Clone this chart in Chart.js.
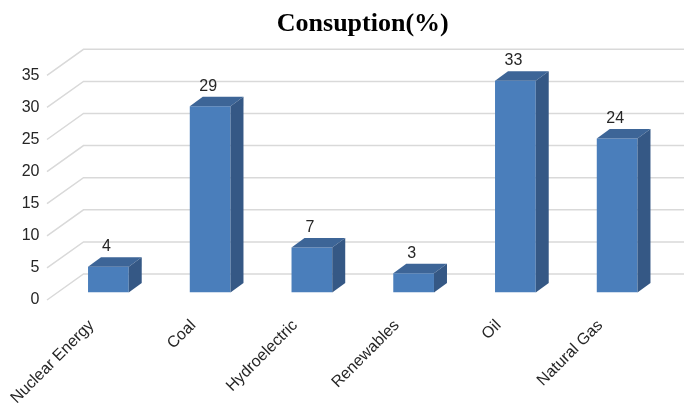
<!DOCTYPE html>
<html>
<head>
<meta charset="utf-8">
<script src="https://cdn.jsdelivr.net/npm/chart.js@4/dist/chart.umd.min.js"></script>
<style>
  html, body { margin: 0; padding: 0; background: #ffffff; }
  #wrap { width: 684px; height: 408px; position: relative; }
</style>
</head>
<body>
<div id="wrap"><canvas id="chart"></canvas></div>
<script>
// Energy consumption share by source (%)
const categories = ['Nuclear Energy', 'Coal', 'Hydroelectric', 'Renewables', 'Oil', 'Natural Gas'];
const consumption = [4, 29, 7, 3, 33, 24];
const yTicks = [0, 5, 10, 15, 20, 25, 30, 35];
const chartTitle = 'Consuption(%)';

// Pseudo-3D geometry, in pixels, relative to the bar front faces
const DEPTH = { dx: 13, dy: -9.5 };    // bar depth
const FRONT = { dx: -10.5, dy: 7.5 };  // front edge of the side wall
const BACK  = { dx: 26, dy: -18.5 };   // back wall

const FACE_FRONT = '#4a7ebb';
const FACE_TOP = '#3d6597';
const FACE_SIDE = '#355885';

// Back wall gridlines and the diagonal side-wall lines, drawn behind the bars
const wall3d = {
  id: 'wall3d',
  beforeDatasetsDraw(chart) {
    const { ctx, chartArea, scales: { y } } = chart;
    ctx.save();
    ctx.strokeStyle = '#d9d9d9';
    ctx.lineWidth = 1.5;
    yTicks.forEach(v => {
      const py = y.getPixelForValue(v);
      ctx.beginPath();
      ctx.moveTo(chartArea.left + FRONT.dx, py + FRONT.dy);
      ctx.lineTo(chartArea.left + BACK.dx, py + BACK.dy);
      ctx.lineTo(chart.width, py + BACK.dy);
      ctx.stroke();
    });
    ctx.restore();
  }
};

// Top and right faces of each bar, plus the value labels
const bars3d = {
  id: 'bars3d',
  afterDatasetsDraw(chart) {
    const { ctx } = chart;
    const meta = chart.getDatasetMeta(0);
    const values = chart.data.datasets[0].data;
    ctx.save();
    meta.data.forEach((bar, i) => {
      const { x, y, base, width } = bar.getProps(['x', 'y', 'base', 'width'], true);
      const xl = x - width / 2, xr = x + width / 2;
      // top face
      ctx.fillStyle = FACE_TOP;
      ctx.beginPath();
      ctx.moveTo(xl, y);
      ctx.lineTo(xr, y);
      ctx.lineTo(xr + DEPTH.dx, y + DEPTH.dy);
      ctx.lineTo(xl + DEPTH.dx, y + DEPTH.dy);
      ctx.closePath();
      ctx.fill();
      // side face
      ctx.fillStyle = FACE_SIDE;
      ctx.beginPath();
      ctx.moveTo(xr, y);
      ctx.lineTo(xr + DEPTH.dx, y + DEPTH.dy);
      ctx.lineTo(xr + DEPTH.dx, base + DEPTH.dy);
      ctx.lineTo(xr, base);
      ctx.closePath();
      ctx.fill();
      // value label
      ctx.fillStyle = '#262626';
      ctx.font = '16px "Liberation Sans", Arial, sans-serif';
      ctx.textAlign = 'center';
      ctx.textBaseline = 'middle';
      ctx.fillText(String(values[i]), x - 2, y + DEPTH.dy - 10.5);
    });
    ctx.restore();
  }
};

new Chart(document.getElementById('chart'), {
  type: 'bar',
  data: {
    labels: categories,
    datasets: [{
      data: consumption,
      backgroundColor: FACE_FRONT,
      borderWidth: 0,
      barPercentage: 0.4,
      categoryPercentage: 1.0
    }]
  },
  options: {
    responsive: true,
    maintainAspectRatio: false,
    animation: false,
    devicePixelRatio: 1,
    layout: { padding: { top: 0, left: 0, right: 16, bottom: 0 } },
    plugins: {
      legend: { display: false },
      tooltip: { enabled: false },
      title: {
        display: true,
        text: chartTitle,
        fullSize: false,
        color: '#000000',
        font: { family: '"Liberation Serif", "Times New Roman", serif', size: 26, weight: 'bold' },
        padding: { top: 8.6, bottom: 28 }
      }
    },
    scales: {
      x: {
        grid: { display: false, drawTicks: false },
        border: { display: false },
        ticks: {
          autoSkip: false,
          minRotation: 45,
          maxRotation: 45,
          labelOffset: -16.8,
          padding: 23.7,
          color: '#262626',
          font: { family: '"Liberation Sans", Arial, sans-serif', size: 16 }
        },
        afterFit(scale) { scale.height = 115.5; }
      },
      y: {
        min: 0,
        max: 35,
        afterBuildTicks(scale) { scale.ticks = yTicks.map(v => ({ value: v })); },
        grid: { display: false, drawTicks: false },
        border: { display: false },
        ticks: {
          padding: 18,
          labelOffset: 7.5,
          color: '#262626',
          font: { family: '"Liberation Sans", Arial, sans-serif', size: 16 }
        },
        afterFit(scale) { scale.width = 57.5; }
      }
    }
  },
  plugins: [wall3d, bars3d]
});
</script>
</body>
</html>
